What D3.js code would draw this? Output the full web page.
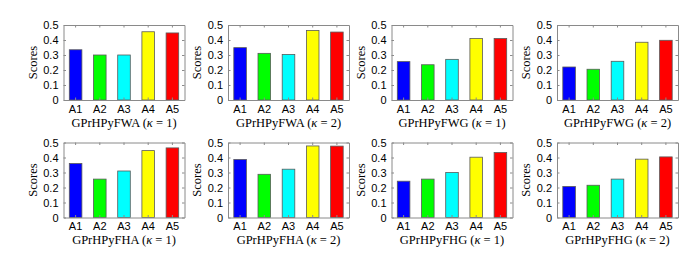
<!DOCTYPE html>
<html>
<head>
<meta charset="utf-8">
<script src="https://cdn.jsdelivr.net/npm/d3@7"></script>
<style>
  body { margin: 0; background: #fff; }
  svg { display: block; }
</style>
</head>
<body>
<svg id="chart"></svg>
<script>
// Alternatives on the x axis
const alternatives = ["A1", "A2", "A3", "A4", "A5"]
const barColors = ["#0000ff", "#00ff00", "#00ffff", "#ffff00", "#ff0000"]
const yTicks = [0, 0.1, 0.2, 0.3, 0.4, 0.5]

// Operator names and kappa values of each panel
const operators = ["GPrHPyFWA", "GPrHPyFWA", "GPrHPyFWG", "GPrHPyFWG",
                   "GPrHPyFHA", "GPrHPyFHA", "GPrHPyFHG", "GPrHPyFHG"]
const kappas = [1, 2, 1, 2, 1, 2, 1, 2]

// Scores, one list per panel
const fwaK1 = [0.335, 0.300, 0.300, 0.455, 0.447]
const fwaK2 = [0.349, 0.311, 0.304, 0.464, 0.453]
const fwgK1 = [0.256, 0.235, 0.271, 0.410, 0.410]
const fwgK2 = [0.220, 0.205, 0.258, 0.385, 0.398]
const fhaK1 = [0.360, 0.256, 0.310, 0.446, 0.464]
const fhaK2 = [0.387, 0.288, 0.322, 0.477, 0.476]
const fhgK1 = [0.242, 0.256, 0.300, 0.402, 0.433]
const fhgK2 = [0.207, 0.215, 0.256, 0.389, 0.404]
const panelScores = [fwaK1, fwaK2, fwgK1, fwgK2, fhaK1, fhaK2, fhgK1, fhgK2]

const width = 694
const height = 253
const svg = d3.select("#chart")
    .attr("width", width)
    .attr("height", height)

// panel layout (pixel positions of the axes boxes)
const colLeft = [63.5, 228, 391.5, 557]
const rowTop = [25, 142.5]
const boxW = 121
const boxH = 75
const axisColor = "#8a8a8a"

panelScores.forEach((scores, i) => {
    const left = colLeft[i % 4]
    const top = rowTop[Math.floor(i / 4)]

    const x = d3.scaleBand()
        .domain(alternatives)
        .range([left, left + boxW])
        .paddingInner(0.48)
        .paddingOuter(0.24)
    const y = d3.scaleLinear()
        .domain([0, 0.5])
        .range([top + boxH, top])

    const g = svg.append("g")

    // bars
    g.selectAll("rect.bar")
        .data(scores)
        .join("rect")
        .attr("class", "bar")
        .attr("x", (d, j) => x(alternatives[j]))
        .attr("width", x.bandwidth())
        .attr("y", d => y(d))
        .attr("height", d => y(0) - y(d))
        .attr("fill", (d, j) => barColors[j])
        .attr("stroke", "#5a5a5a")
        .attr("stroke-width", 0.8)

    // left axis, ticks pointing inward
    const yAxis = g.append("g")
        .attr("transform", `translate(${left},0)`)
        .call(d3.axisLeft(y).tickValues(yTicks).tickSizeInner(-2.5).tickSizeOuter(0)
            .tickPadding(5).tickFormat(d => d === 0 ? "0" : d3.format(".1f")(d)))
    // right side ticks
    const yAxisR = g.append("g")
        .attr("transform", `translate(${left + boxW},0)`)
        .call(d3.axisRight(y).tickValues(yTicks).tickSizeInner(-2.5).tickSizeOuter(0).tickFormat(""))
    // bottom axis
    const xAxis = g.append("g")
        .attr("transform", `translate(0,${top + boxH})`)
        .call(d3.axisBottom(x).tickSizeInner(-2.5).tickSizeOuter(0).tickPadding(5))
    // top ticks
    const xAxisT = g.append("g")
        .attr("transform", `translate(0,${top})`)
        .call(d3.axisTop(x).tickSizeInner(-2.5).tickSizeOuter(0).tickFormat(""))

    ;[yAxis, yAxisR, xAxis, xAxisT].forEach(a => {
        a.select(".domain").attr("stroke", axisColor)
        a.selectAll(".tick line").attr("stroke", axisColor)
        a.selectAll("text")
            .attr("fill", "#000")
            .attr("font-family", "Liberation Sans, Arial, sans-serif")
            .attr("font-size", 11)
    })
    yAxis.selectAll("text").attr("dy", "0.36em")
    xAxis.selectAll("text").attr("dy", "0.72em")

    // y label
    g.append("text")
        .attr("transform", `translate(${left - 27},${top + boxH / 2}) rotate(-90)`)
        .attr("text-anchor", "middle")
        .attr("font-family", "Liberation Serif, Times New Roman, serif")
        .attr("font-size", 12.5)
        .text("Scores")

    // panel title under the axis
    const title = g.append("text")
        .attr("x", left + boxW / 2)
        .attr("y", top + boxH + 26.5)
        .attr("text-anchor", "middle")
        .attr("font-family", "Liberation Serif, Times New Roman, serif")
        .attr("font-size", 12.5)
    title.append("tspan").text(operators[i] + " (")
    title.append("tspan").attr("font-style", "italic").text("κ")
    title.append("tspan").text(" = " + kappas[i] + ")")
})
</script>
</body>
</html>
